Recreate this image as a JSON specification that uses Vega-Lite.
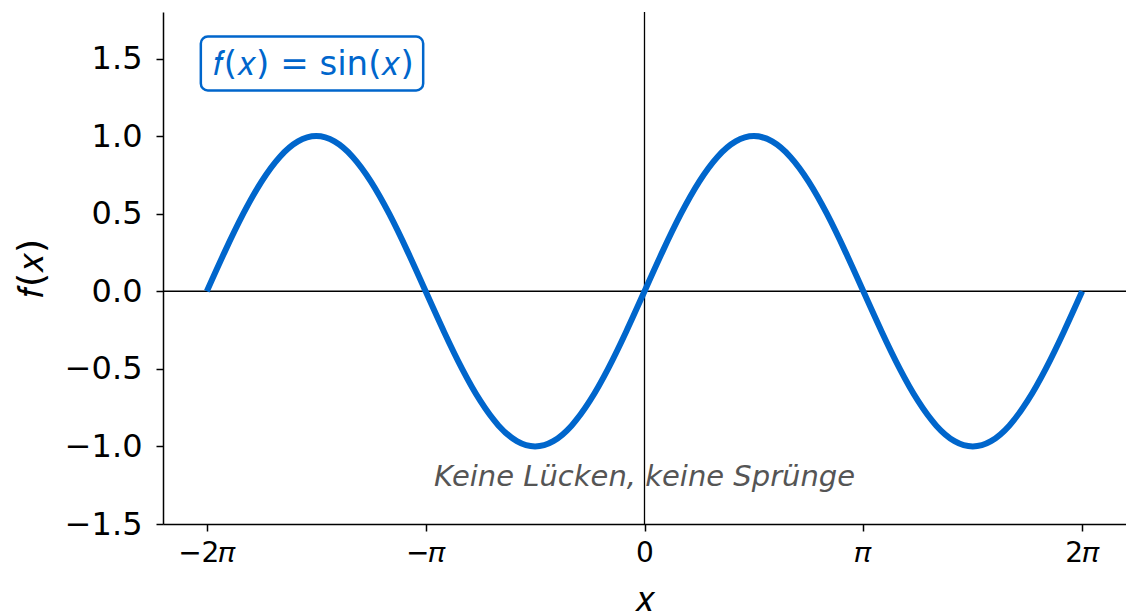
{
  "$schema": "https://vega.github.io/schema/vega-lite/v6.json",
  "width": 963,
  "height": 512,
  "autosize": {"type": "none"},
  "padding": {"left": 163, "top": 12, "right": 0, "bottom": 89},
  "background": "white",
  "config": {
    "font": "DejaVu Sans",
    "view": {"stroke": null},
    "axis": {
      "domainColor": "black",
      "domainWidth": 1.5,
      "tickColor": "black",
      "tickWidth": 1.5,
      "tickSize": 7,
      "labelColor": "black",
      "labelFont": "DejaVu Sans",
      "titleColor": "black",
      "titleFont": "DejaVu Sans",
      "titleFontWeight": "normal",
      "gridColor": "#e3e3e3",
      "gridDash": [7, 4],
      "gridWidth": 1.3
    }
  },
  "data": {
    "values": [
      {"x": -6.283185, "y": 0},
      {"x": -6.021386, "y": 0.258819},
      {"x": -5.759587, "y": 0.5},
      {"x": -5.497787, "y": 0.707107},
      {"x": -5.235988, "y": 0.866025},
      {"x": -4.974188, "y": 0.965926},
      {"x": -4.712389, "y": 1},
      {"x": -4.45059, "y": 0.965926},
      {"x": -4.18879, "y": 0.866025},
      {"x": -3.926991, "y": 0.707107},
      {"x": -3.665191, "y": 0.5},
      {"x": -3.403392, "y": 0.258819},
      {"x": -3.141593, "y": 0},
      {"x": -2.879793, "y": -0.258819},
      {"x": -2.617994, "y": -0.5},
      {"x": -2.356194, "y": -0.707107},
      {"x": -2.094395, "y": -0.866025},
      {"x": -1.832596, "y": -0.965926},
      {"x": -1.570796, "y": -1},
      {"x": -1.308997, "y": -0.965926},
      {"x": -1.047198, "y": -0.866025},
      {"x": -0.785398, "y": -0.707107},
      {"x": -0.523599, "y": -0.5},
      {"x": -0.261799, "y": -0.258819},
      {"x": 0, "y": 0},
      {"x": 0.261799, "y": 0.258819},
      {"x": 0.523599, "y": 0.5},
      {"x": 0.785398, "y": 0.707107},
      {"x": 1.047198, "y": 0.866025},
      {"x": 1.308997, "y": 0.965926},
      {"x": 1.570796, "y": 1},
      {"x": 1.832596, "y": 0.965926},
      {"x": 2.094395, "y": 0.866025},
      {"x": 2.356194, "y": 0.707107},
      {"x": 2.617994, "y": 0.5},
      {"x": 2.879793, "y": 0.258819},
      {"x": 3.141593, "y": 0},
      {"x": 3.403392, "y": -0.258819},
      {"x": 3.665191, "y": -0.5},
      {"x": 3.926991, "y": -0.707107},
      {"x": 4.18879, "y": -0.866025},
      {"x": 4.45059, "y": -0.965926},
      {"x": 4.712389, "y": -1},
      {"x": 4.974188, "y": -0.965926},
      {"x": 5.235988, "y": -0.866025},
      {"x": 5.497787, "y": -0.707107},
      {"x": 5.759587, "y": -0.5},
      {"x": 6.021386, "y": -0.258819},
      {"x": 6.283185, "y": 0}
    ]
  },
  "layer": [
    {
      "data": {"values": [{}]},
      "mark": {"type": "rule", "color": "black", "strokeWidth": 1.3},
      "encoding": {"x": {"datum": 0, "type": "quantitative"}}
    },
    {
      "data": {"values": [{}]},
      "mark": {"type": "rule", "color": "black", "strokeWidth": 1.3},
      "encoding": {"y": {"datum": 0, "type": "quantitative"}}
    },
    {
      "mark": {"type": "line", "color": "#0066cc", "strokeWidth": 6, "interpolate": "natural", "clip": true},
      "encoding": {
        "x": {
          "field": "x", "type": "quantitative",
          "scale": {"domain": [-6.912, 6.912], "nice": false, "zero": false},
          "axis": {
            "values": [-6.283185, -3.141593, 0, 3.141593, 6.283185],
            "labelExpr": "datum.value < -5 ? '−2𝜋' : datum.value < -1 ? '−𝜋' : datum.value > 5 ? '2𝜋' : datum.value > 1 ? '𝜋' : '0'",
            "labelFontSize": 28,
            "labelPadding": 8,
            "title": "𝑥",
            "titleFontSize": 36,
            "titlePadding": 15
          }
        },
        "y": {
          "field": "y", "type": "quantitative",
          "scale": {"domain": [-1.5, 1.8], "nice": false, "zero": false},
          "axis": {
            "values": [-1.5, -1, -0.5, 0, 0.5, 1, 1.5],
            "format": ".1f",
            "labelExpr": "replace(datum.label, '-', '−')",
            "labelFontSize": 32,
            "labelPadding": 14,
            "title": "𝑓(𝑥)",
            "titleFontSize": 36,
            "titlePadding": 14
          }
        }
      }
    },
    {
      "data": {"values": [{}]},
      "mark": {"type": "rect", "fill": "white", "stroke": "#0066cc", "strokeWidth": 2.5, "cornerRadius": 7},
      "encoding": {
        "x": {"datum": -6.369, "type": "quantitative"},
        "x2": {"datum": -3.177},
        "y": {"datum": 1.642, "type": "quantitative"},
        "y2": {"datum": 1.294}
      }
    },
    {
      "data": {"values": [{}]},
      "mark": {"type": "text", "color": "#0066cc", "fontSize": 34, "align": "left", "baseline": "alphabetic", "text": "𝑓(𝑥) = sin(𝑥)"},
      "encoding": {
        "x": {"datum": -6.197, "type": "quantitative"},
        "y": {"datum": 1.397, "type": "quantitative"}
      }
    },
    {
      "data": {"values": [{}]},
      "mark": {"type": "text", "color": "#555555", "fontSize": 29, "fontStyle": "italic", "align": "center", "baseline": "middle", "text": "Keine Lücken, keine Sprünge"},
      "encoding": {
        "x": {"datum": 0, "type": "quantitative"},
        "y": {"datum": -1.2, "type": "quantitative"}
      }
    }
  ]
}
